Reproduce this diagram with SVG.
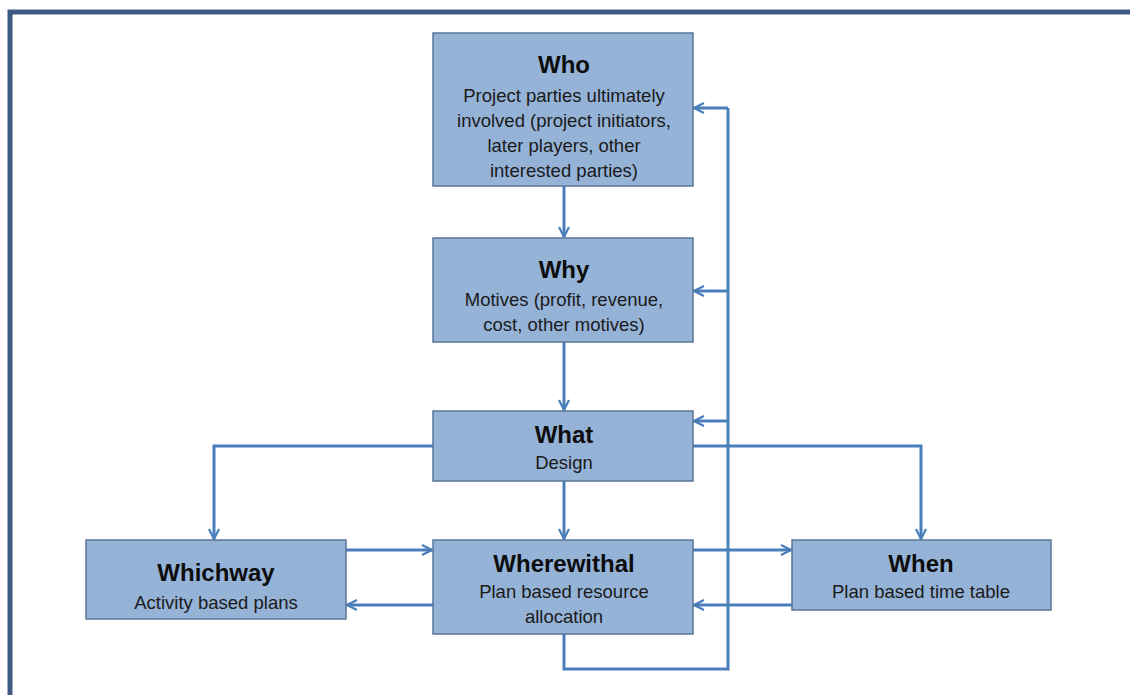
<svg xmlns="http://www.w3.org/2000/svg" width="1130" height="695" viewBox="0 0 1130 695">
<style>
.box{fill:#95b3d7;stroke:#5a7596;stroke-width:1.5}
.t{font-family:"Liberation Sans",Arial,sans-serif;font-weight:bold;font-size:24px;fill:#0d0d0d;text-anchor:middle}
.b{font-family:"Liberation Sans",Arial,sans-serif;font-size:18.5px;fill:#1a1a1a;text-anchor:middle}
.c{fill:none;stroke:#4a7ebb;stroke-width:3}
</style>
<defs>
<marker id="ah" viewBox="0 0 12 12" refX="11" refY="6" markerWidth="12" markerHeight="12" markerUnits="userSpaceOnUse" orient="auto">
<path d="M1,1 L11,6 L1,11" fill="none" stroke="#4a7ebb" stroke-width="2.2"/>
</marker>
</defs>
<rect width="1130" height="695" fill="#fff"/>
<path d="M10,695 L10,12 L1130,12" fill="none" stroke="#3c5a82" stroke-width="5"/>
<g id="connectors">
<path class="c" d="M564,186 L564,237" marker-end="url(#ah)"/>
<path class="c" d="M564,342 L564,410" marker-end="url(#ah)"/>
<path class="c" d="M564,481 L564,539" marker-end="url(#ah)"/>
<path class="c" d="M433,446 L214,446 L214,539" marker-end="url(#ah)"/>
<path class="c" d="M693,446 L921,446 L921,539" marker-end="url(#ah)"/>
<path class="c" d="M346,550 L432,550" marker-end="url(#ah)"/>
<path class="c" d="M433,605 L347,605" marker-end="url(#ah)"/>
<path class="c" d="M693,550 L791,550" marker-end="url(#ah)"/>
<path class="c" d="M792,605 L694,605" marker-end="url(#ah)"/>
<path class="c" d="M564,634 L564,669 L728,669 L728,108"/>
<path class="c" d="M728,108 L694,108" marker-end="url(#ah)"/>
<path class="c" d="M728,291 L694,291" marker-end="url(#ah)"/>
<path class="c" d="M728,421 L694,421" marker-end="url(#ah)"/>
</g>
<g id="who">
<rect class="box" x="433" y="33" width="260" height="153"/>
<text class="t" x="564" y="73">Who</text>
<text class="b" x="564" y="102">Project parties ultimately</text>
<text class="b" x="564" y="127">involved (project initiators,</text>
<text class="b" x="564" y="152">later players, other</text>
<text class="b" x="564" y="177">interested parties)</text>
</g>
<g id="why">
<rect class="box" x="433" y="238" width="260" height="104"/>
<text class="t" x="564" y="278">Why</text>
<text class="b" x="564" y="306">Motives (profit, revenue,</text>
<text class="b" x="564" y="331">cost, other motives)</text>
</g>
<g id="what">
<rect class="box" x="433" y="411" width="260" height="70"/>
<text class="t" x="564" y="443">What</text>
<text class="b" x="564" y="469">Design</text>
</g>
<g id="whichway">
<rect class="box" x="86" y="540" width="260" height="79"/>
<text class="t" x="216" y="581">Whichway</text>
<text class="b" x="216" y="609">Activity based plans</text>
</g>
<g id="wherewithal">
<rect class="box" x="433" y="540" width="260" height="94"/>
<text class="t" x="564" y="572">Wherewithal</text>
<text class="b" x="564" y="598">Plan based resource</text>
<text class="b" x="564" y="623">allocation</text>
</g>
<g id="when">
<rect class="box" x="792" y="540" width="259" height="70"/>
<text class="t" x="921" y="572">When</text>
<text class="b" x="921" y="598">Plan based time table</text>
</g>
</svg>
